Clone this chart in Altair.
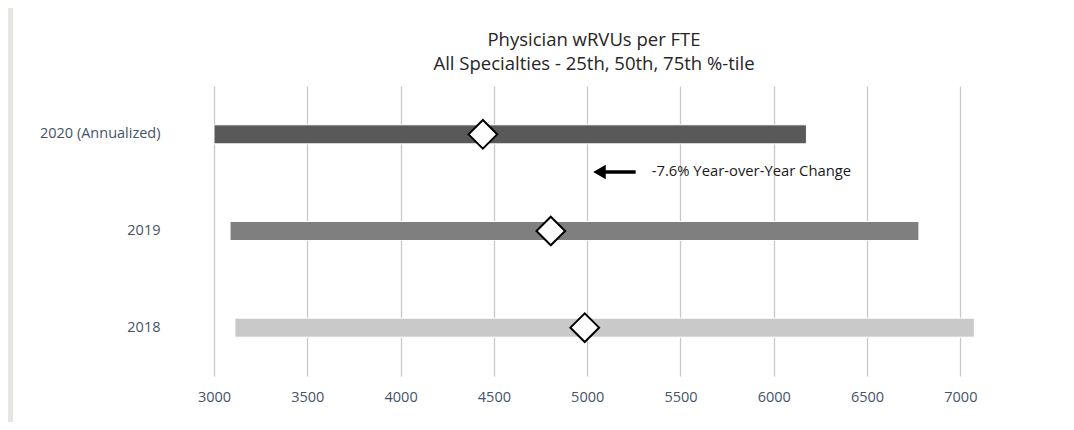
import altair as alt
import pandas as pd

years = ["2020 (Annualized)", "2019", "2018"]
p25 = [3000, 3086, 3112]
p50 = [4441, 4805, 4987]
p75 = [6175, 6778, 7075]
bar_colors = ["#595959", "#7f7f7f", "#c9c9c9"]
x_ticks = [3000, 3500, 4000, 4500, 5000, 5500, 6000, 6500, 7000]
title_lines = ["Physician wRVUs per FTE", "All Specialties - 25th, 50th, 75th %-tile"]
note_text = ["-7.6% Year-over-Year Change"]
arrow_x = [5066]
arrow_x2 = [5260]
note_x = [5346]

df = pd.DataFrame({"year": years, "p25": p25, "p50": p50, "p75": p75})

W, H = 765, 290
PAD_L, PAD_T = 206, 78
CANVAS_W, CANVAS_H = 1058, 414
FONT = "Open Sans"
LABEL = "#44546a"

xscale = alt.Scale(domain=[3000, 7100], nice=False, zero=False)
yscale = alt.Scale(domain=years, paddingInner=0, paddingOuter=0)

strip = alt.Chart(pd.DataFrame({"a": [0]})).mark_rect(color="#e6e6e1").encode(
    x=alt.value(-PAD_L), x2=alt.value(-PAD_L + 5), y=alt.value(-PAD_T), y2=alt.value(CANVAS_H - PAD_T)
)

bars = alt.Chart(df).mark_bar(size=19, stroke="white", strokeWidth=1).encode(
    x=alt.X("p25:Q", scale=xscale,
            axis=alt.Axis(values=x_ticks, title=None, grid=True, domain=False, ticks=False,
                          tickSize=0, labelPadding=14, labelFlush=False, labelFont=FONT,
                          labelFontSize=14.5, labelColor=LABEL, gridColor="#c8c8c8",
                          gridWidth=1.3, format="d")),
    x2="p75:Q",
    y=alt.Y("year:N", scale=yscale, sort=years,
            axis=alt.Axis(title=None, domain=False, ticks=False, grid=False, labelPadding=54,
                          labelFont=FONT, labelFontSize=14.5, labelColor=LABEL)),
    color=alt.Color("year:N", scale=alt.Scale(domain=years, range=bar_colors), legend=None),
)

meds = alt.Chart(df).mark_point(shape="diamond", size=820, filled=True, fill="white",
                                stroke="black", strokeWidth=2, opacity=1).encode(
    x=alt.X("p50:Q", scale=xscale),
    y=alt.Y("year:N", scale=yscale, sort=years),
)

ann = pd.DataFrame({"x": arrow_x, "x2": arrow_x2, "tx": note_x, "t": note_text})
shaft = alt.Chart(ann).mark_rule(color="black", strokeWidth=3.5).encode(
    x=alt.X("x:Q", scale=xscale), x2="x2:Q", y=alt.value(86)
)
head = alt.Chart(ann).mark_point(shape="triangle-left", size=210, filled=True,
                                 color="black", opacity=1).encode(
    x=alt.X("x:Q", scale=xscale), y=alt.value(86)
)
note = alt.Chart(ann).mark_text(align="left", baseline="middle", font=FONT, fontSize=14.8,
                                color="#1a1a1a").encode(
    x=alt.X("tx:Q", scale=xscale), y=alt.value(86), text="t:N"
)

tdf = pd.DataFrame({"t": title_lines})
title1 = alt.Chart(tdf.iloc[[0]]).mark_text(align="center", baseline="alphabetic", font=FONT,
                                            fontSize=18.5, color="#262626").encode(
    x=alt.value(380), y=alt.value(-40), text="t:N"
)
title2 = alt.Chart(tdf.iloc[[1]]).mark_text(align="center", baseline="alphabetic", font=FONT,
                                            fontSize=18.5, color="#262626").encode(
    x=alt.value(380), y=alt.value(-16), text="t:N"
)

chart = alt.layer(strip, bars, meds, shaft, head, note, title1, title2).properties(
    width=W, height=H,
    autosize=alt.AutoSizeParams(type="none"),
    padding={"left": PAD_L, "top": PAD_T, "right": CANVAS_W - PAD_L - W,
             "bottom": CANVAS_H - PAD_T - H},
    background="white",
).configure_view(stroke=None)

chart.save("out.html", embed_options={"renderer": "svg", "actions": False})
